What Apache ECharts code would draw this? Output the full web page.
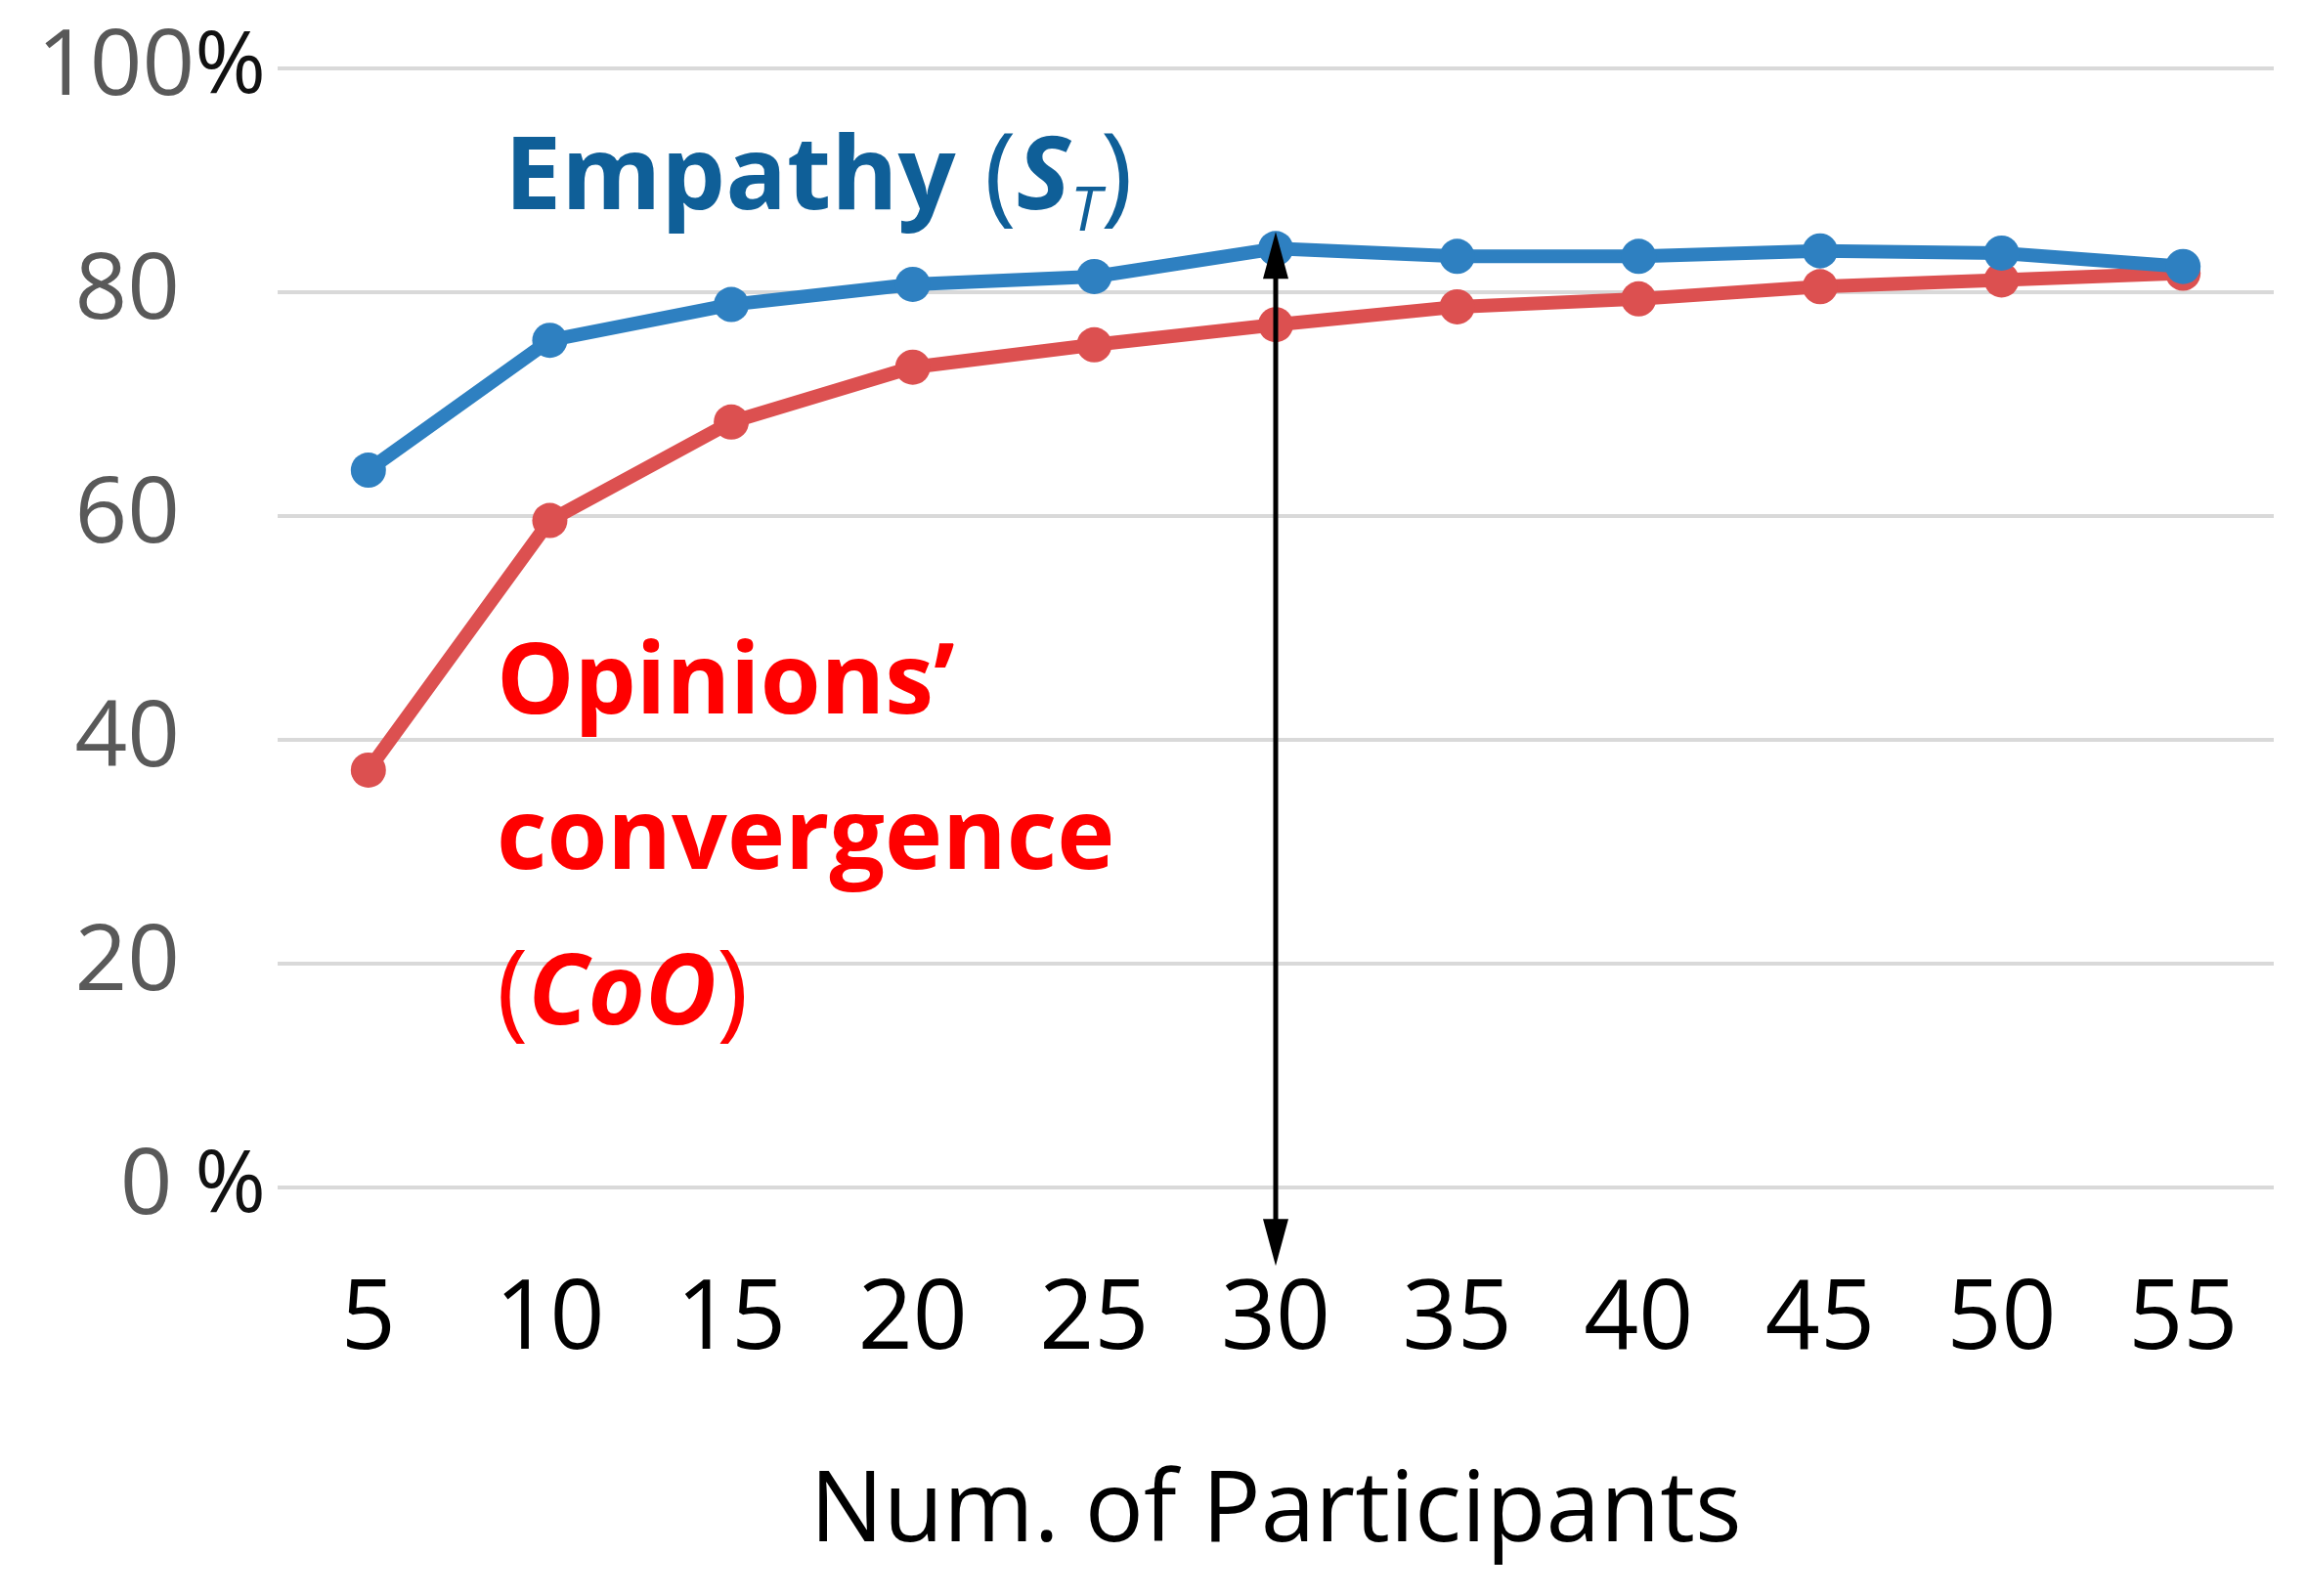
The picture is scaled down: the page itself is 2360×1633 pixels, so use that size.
<!DOCTYPE html>
<html>
<head>
<meta charset="utf-8">
<script src="https://cdn.jsdelivr.net/npm/echarts@6/dist/echarts.min.js"></script>
<style>
html,body{margin:0;padding:0;background:#fff;}
#chart{width:2360px;height:1633px;}
</style>
</head>
<body>
<div id="chart"></div>
<script>
const participants = ['5','10','15','20','25','30','35','40','45','50','55'];
const empathy = [64.1, 75.7, 78.9, 80.7, 81.4, 83.9, 83.2, 83.2, 83.7, 83.5, 82.3];
const convergence = [37.3, 59.6, 68.4, 73.3, 75.3, 77.1, 78.7, 79.4, 80.5, 81.1, 81.7];
const yTicks = [0, 20, 40, 60, 80, 100];
const arrowX = '30';
const arrowRange = [85.4, -7.0];

const chart = echarts.init(document.getElementById('chart'));
const FONT = '"Open Sans", "Liberation Sans", sans-serif';

const textGraphics = [
  {
    type: 'text',
    left: 516,
    top: 128,
    style: {
      text: '{a|Empathy}{b| (}{c|S}{d|T}{b|)}',
      rich: {
        a: { fontFamily: FONT, fontWeight: 'bold', fontSize: 104, fill: '#0f5f98', lineHeight: 130 },
        b: { fontFamily: FONT, fontWeight: 'normal', fontSize: 112, fill: '#0f5f98', lineHeight: 130 },
        c: { fontFamily: FONT, fontWeight: 'bold', fontStyle: 'italic', fontSize: 104, fill: '#0f5f98', lineHeight: 130 },
        d: { fontFamily: FONT, fontWeight: 'normal', fontStyle: 'italic', fontSize: 62, fill: '#0f5f98', lineHeight: 62, verticalAlign: 'bottom' }
      }
    }
  },
  {
    type: 'text',
    left: 508,
    top: 652,
    style: {
      text: '{a|Opinions\u2019}\n{a|convergence}\n{b|(}{c|CoO}{b|)}',
      rich: {
        a: { fontFamily: FONT, fontWeight: 'bold', fontSize: 100, fill: '#ff0000', lineHeight: 159 },
        b: { fontFamily: FONT, fontWeight: 'normal', fontSize: 110, fill: '#ff0000', lineHeight: 159 },
        c: { fontFamily: FONT, fontWeight: 'bold', fontStyle: 'italic', fontSize: 100, fill: '#ff0000', lineHeight: 159 }
      }
    }
  }
];

chart.setOption({
  animation: false,
  backgroundColor: '#ffffff',
  grid: { left: 284, right: 34, top: 70, bottom: 418 },
  xAxis: {
    type: 'category',
    data: participants,
    boundaryGap: true,
    axisLine: { show: false },
    axisTick: { show: false },
    axisLabel: { fontFamily: FONT, fontSize: 98, color: '#000000', margin: 88 },
    name: 'Num. of Participants',
    nameLocation: 'middle',
    nameGap: 284,
    nameTextStyle: { fontFamily: FONT, fontSize: 100, color: '#000000' }
  },
  yAxis: {
    type: 'value',
    min: yTicks[0],
    max: yTicks[yTicks.length - 1],
    interval: 20,
    axisLine: { show: false },
    axisTick: { show: false },
    splitLine: { lineStyle: { color: '#d9d9d9', width: 4 } },
    axisLabel: {
      margin: 12,
      formatter: function (v) {
        if (v === 100) return '{n|100}{p|%}';
        if (v === 0) return '{n|0}{p| %}';
        return '{n|' + v + '}{e|}';
      },
      rich: {
        n: { fontFamily: FONT, fontSize: 94, color: '#595959' },
        p: { fontFamily: FONT, fontSize: 88, color: '#111111' },
        e: { width: 88 }
      }
    }
  },
  series: [
    {
      name: 'Empathy',
      type: 'line',
      data: empathy,
      symbol: 'circle',
      symbolSize: 36,
      itemStyle: { color: '#2e80c1' },
      lineStyle: { color: '#2e80c1', width: 14 },
      z: 3
    },
    {
      name: 'CoO',
      type: 'line',
      data: convergence,
      symbol: 'circle',
      symbolSize: 36,
      itemStyle: { color: '#dc5050' },
      lineStyle: { color: '#dc5050', width: 14 },
      z: 2
    }
  ],
  graphic: textGraphics
});

// Double-headed arrow at x = 30, positioned through the chart's own scales
const xi = participants.indexOf(arrowX);
const pTop = chart.convertToPixel({ gridIndex: 0 }, [xi, arrowRange[0]]);
const pBot = chart.convertToPixel({ gridIndex: 0 }, [xi, arrowRange[1]]);
const headLen = 48, headHalf = 13;
chart.setOption({
  graphic: textGraphics.concat([
    {
      type: 'line',
      z: 10,
      shape: { x1: pTop[0], y1: pTop[1] + headLen - 4, x2: pBot[0], y2: pBot[1] - headLen + 4 },
      style: { stroke: '#000000', lineWidth: 5 }
    },
    {
      type: 'polygon',
      z: 10,
      shape: { points: [[pTop[0], pTop[1]], [pTop[0] - headHalf, pTop[1] + headLen], [pTop[0] + headHalf, pTop[1] + headLen]] },
      style: { fill: '#000000' }
    },
    {
      type: 'polygon',
      z: 10,
      shape: { points: [[pBot[0], pBot[1]], [pBot[0] - headHalf, pBot[1] - headLen], [pBot[0] + headHalf, pBot[1] - headLen]] },
      style: { fill: '#000000' }
    }
  ])
}, { replaceMerge: ['graphic'] });
</script>
</body>
</html>
